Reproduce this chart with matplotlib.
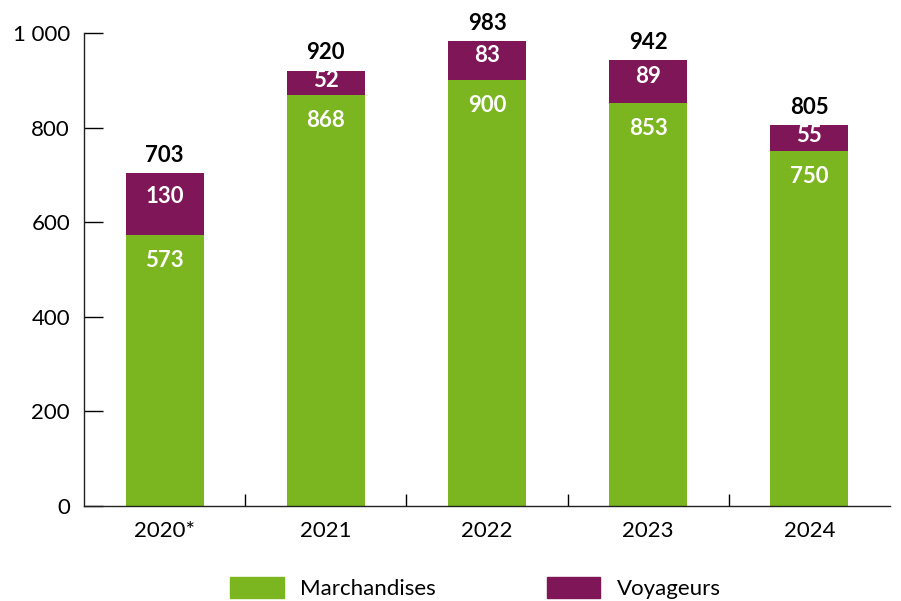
import matplotlib.pyplot as plt
from matplotlib.patches import Patch

annees = ["2020*", "2021", "2022", "2023", "2024"]
marchandises = [573, 868, 900, 853, 750]
voyageurs = [130, 52, 83, 89, 55]
totaux = [703, 920, 983, 942, 805]

VERT = "#7bb51f"
VIOLET = "#7e1657"

plt.rcParams["font.family"] = ["Lato", "DejaVu Sans"]

fig = plt.figure(figsize=(9.01, 6.01), dpi=100)
ax = fig.add_axes([84 / 901, 1 - 506 / 601, 806 / 901, 473 / 601])

x = list(range(len(annees)))
ax.bar(x, marchandises, width=0.485, color=VERT)
ax.bar(x, voyageurs, width=0.485, bottom=marchandises, color=VIOLET)

for i in x:
    ax.text(i, marchandises[i] - 54, str(marchandises[i]), ha="center", va="center",
            color="white", fontsize=16, fontweight="bold")
    ax.text(i, marchandises[i] + voyageurs[i] * 0.62, str(voyageurs[i]), ha="center",
            va="center", color="white", fontsize=16, fontweight="bold")
    ax.text(i, totaux[i] + 38, str(totaux[i]), ha="center", va="center",
            color="black", fontsize=16, fontweight="bold", clip_on=False)

ax.set_xlim(-0.5, len(annees) - 0.5)
ax.set_ylim(0, 1000)
ax.set_yticks([0, 200, 400, 600, 800, 1000])
ax.set_yticklabels(["0", "200", "400", "600", "800", "1 000"])
ax.tick_params(axis="y", direction="in", length=14, width=1, labelsize=16, pad=10)

# separateurs entre categories
ax.set_xticks([i + 0.5 for i in x[:-1]], minor=True)
ax.tick_params(axis="x", which="minor", direction="in", length=9, width=1)
ax.set_xticks(x)
ax.set_xticklabels(annees)
ax.tick_params(axis="x", which="major", length=0, labelsize=16, pad=11)

for s in ["top", "right"]:
    ax.spines[s].set_visible(False)
for s in ["left", "bottom"]:
    ax.spines[s].set_linewidth(1)
    ax.spines[s].set_color("#222222")

handles = [Patch(color=VERT, label="Marchandises"), Patch(color=VIOLET, label="Voyageurs")]
fig.legend(handles=handles, loc="lower center", bbox_to_anchor=(0.528, -0.03), ncol=2,
           frameon=False, fontsize=16, handlelength=2.4, handleheight=1.05,
           columnspacing=5.0, handletextpad=0.75)

fig.savefig("out.png", dpi=100)
